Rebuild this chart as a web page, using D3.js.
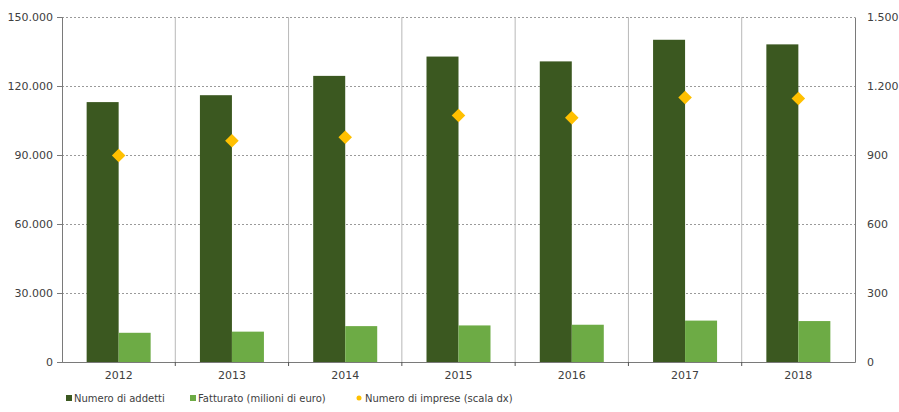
<!DOCTYPE html>
<html>
<head>
<meta charset="utf-8">
<script src="https://cdn.jsdelivr.net/npm/d3@7"></script>
<style>
  body { margin: 0; background: #fff; }
  svg text { font-family: "DejaVu Sans", Verdana, sans-serif; fill: #404040; }
  .grid line { stroke: #9a9a9a; stroke-dasharray: 2,2; }
  .grid path { display: none; }
  .vgrid { stroke: #b8b8b8; stroke-width: 1; }
</style>
</head>
<body>
<svg width="899" height="412"></svg>
<script>
// chart values
var years = ['2012', '2013', '2014', '2015', '2016', '2017', '2018'];
var addetti = [113000, 116000, 124400, 132800, 130700, 140100, 138100];
var fatturato = [12700, 13200, 15600, 15900, 16200, 18000, 17800];
var imprese = [898, 962, 977, 1072, 1062, 1150, 1146];
var leftTicks = [0, 30000, 60000, 90000, 120000, 150000];
var rightTicks = [0, 300, 600, 900, 1200, 1500];
var legendLabels = ['Numero di addetti', 'Fatturato (milioni di euro)', 'Numero di imprese (scala dx)'];

var svg = d3.select('svg');
var svgWidth = +svg.attr('width');
var svgHeight = +svg.attr('height');

var padding = {t: 17, r: 44, b: 50, l: 62};
var w = svgWidth - padding.l - padding.r;
var h = svgHeight - padding.t - padding.b;

var colors = {dark: '#3b5820', light: '#6dab45', gold: '#ffc000'};

var fmt = d3.format(',');
function itFmt(v) { return fmt(v).replace(/,/g, '.'); }

var g = svg.append('g').attr('transform', 'translate(' + [padding.l, padding.t] + ')');

// scales
var xScale = d3.scaleBand().domain(years).range([0, w]);
var inner = d3.scaleBand().domain(['a', 'f']).range([0, xScale.bandwidth()]).paddingOuter(0.77);
var yLeft = d3.scaleLinear().domain([0, 150000]).range([h, 0]);
var yRight = d3.scaleLinear().domain([0, 1500]).range([h, 0]);

// dotted horizontal grid
g.append('g').attr('class', 'grid')
    .call(d3.axisLeft(yLeft).tickValues(leftTicks).tickSize(-w).tickFormat(''));

// vertical separators between years
g.selectAll('.vgrid')
    .data(years.slice(1))
    .enter()
    .append('line')
    .attr('class', 'vgrid')
    .attr('x1', d => xScale(d)).attr('x2', d => xScale(d))
    .attr('y1', 0).attr('y2', h);

// bars
var groups = g.selectAll('.year')
    .data(years)
    .enter()
    .append('g')
    .attr('class', 'year')
    .attr('transform', d => 'translate(' + xScale(d) + ',0)');

groups.append('rect')
    .attr('x', inner('a'))
    .attr('width', inner.bandwidth())
    .attr('y', (d, i) => yLeft(addetti[i]))
    .attr('height', (d, i) => h - yLeft(addetti[i]))
    .attr('fill', colors.dark);

groups.append('rect')
    .attr('x', inner('f'))
    .attr('width', inner.bandwidth())
    .attr('y', (d, i) => yLeft(fatturato[i]))
    .attr('height', (d, i) => h - yLeft(fatturato[i]))
    .attr('fill', colors.light);

// diamonds, right scale
var diamond = d3.symbol().type(d3.symbolSquare).size(92);
g.selectAll('.imprese')
    .data(years)
    .enter()
    .append('path')
    .attr('class', 'imprese')
    .attr('d', diamond)
    .attr('fill', colors.gold)
    .attr('transform', (d, i) => 'translate(' + [xScale(d) + xScale.bandwidth() / 2, yRight(imprese[i])] + ') rotate(45)');

// axes
var yAxisL = g.append('g')
    .call(d3.axisLeft(yLeft).tickValues(leftTicks).tickSize(5).tickPadding(4).tickFormat(itFmt));
yAxisL.selectAll('text').style('font-size', '11px');

var yAxisR = g.append('g')
    .attr('transform', 'translate(' + w + ',0)')
    .call(d3.axisRight(yRight).tickValues(rightTicks).tickSize(0).tickPadding(12).tickFormat(itFmt));
yAxisR.selectAll('text').style('font-size', '11px');

var xAxis = g.append('g')
    .attr('transform', 'translate(0,' + h + ')')
    .call(d3.axisBottom(xScale).tickSize(0).tickPadding(9));
xAxis.selectAll('text').style('font-size', '11px');
xAxis.selectAll('.bound')
    .data(years.slice(1))
    .enter()
    .append('line')
    .attr('x1', d => xScale(d)).attr('x2', d => xScale(d))
    .attr('y1', 0).attr('y2', 4)
    .attr('stroke', '#555');

svg.selectAll('.domain').attr('stroke', '#7a7a7a');
svg.selectAll('.tick line').attr('stroke', '#7a7a7a');
g.select('.grid').selectAll('line').attr('stroke', '#9a9a9a');

// legend
var legendX = [69, 193, 359];
var legend = svg.append('g').attr('transform', 'translate(0,398)');
legendLabels.forEach(function(label, i) {
    var item = legend.append('g').attr('transform', 'translate(' + legendX[i] + ',0)');
    if (i < 2) {
        item.append('rect').attr('x', -3).attr('y', -3).attr('width', 6).attr('height', 6)
            .attr('fill', i == 0 ? colors.dark : colors.light);
    } else {
        item.append('circle').attr('r', 2.5).attr('fill', colors.gold);
    }
    item.append('text').attr('x', i < 2 ? 5 : 6).attr('dy', '0.35em')
        .style('font-size', '10px').text(label);
});
</script>
</body>
</html>
